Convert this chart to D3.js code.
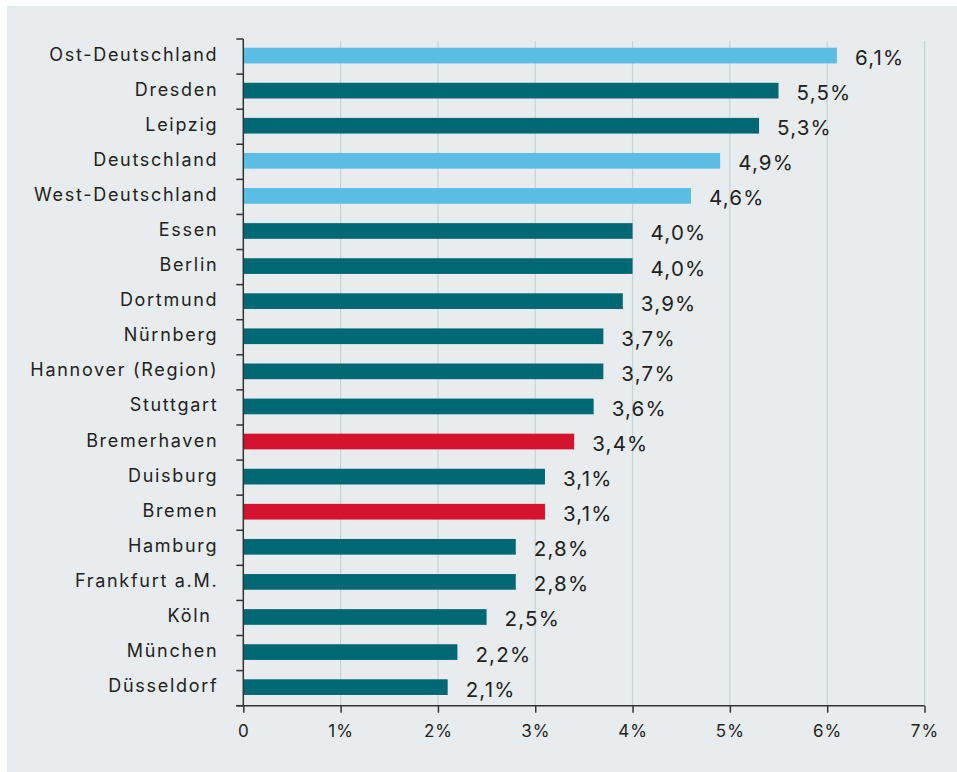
<!DOCTYPE html>
<html>
<head>
<meta charset="utf-8">
<script src="https://cdn.jsdelivr.net/npm/d3@7"></script>
<style>
  html, body { margin: 0; padding: 0; background: #fff; }
  svg { display: block; font-family: Inter, "Noto Sans", sans-serif; }
</style>
</head>
<body>
<svg id="chart" width="957" height="772"></svg>
<script>
'use strict';

// categories, top to bottom
var cities = [
  'Ost-Deutschland', 'Dresden', 'Leipzig', 'Deutschland', 'West-Deutschland',
  'Essen', 'Berlin', 'Dortmund', 'Nürnberg', 'Hannover (Region)', 'Stuttgart',
  'Bremerhaven', 'Duisburg', 'Bremen', 'Hamburg', 'Frankfurt a.M.', 'Köln ',
  'München', 'Düsseldorf'
];
// share in percent
var shares = [6.1, 5.5, 5.3, 4.9, 4.6, 4.0, 4.0, 3.9, 3.7, 3.7, 3.6, 3.4, 3.1, 3.1, 2.8, 2.8, 2.5, 2.2, 2.1];
// bar group: region aggregate, Bremen, other city
var groups = ['region', 'city', 'city', 'region', 'region', 'city', 'city', 'city', 'city', 'city', 'city',
  'bremen', 'city', 'bremen', 'city', 'city', 'city', 'city', 'city'];
var xTicks = [0, 1, 2, 3, 4, 5, 6, 7];

var colors = { region: '#5bbde3', city: '#006775', bremen: '#d4132f' };

var data = cities.map((c, i) => ({ name: c, value: shares[i], group: groups[i] }));

var svg = d3.select('#chart');

// grey panel
svg.append('rect')
  .attr('x', 7).attr('y', 6)
  .attr('width', 950).attr('height', 766)
  .attr('fill', '#e8ecee');

var mLeft = 243.3, mRight = 924.5, mTop = 39, mBottom = 705.7;

var x = d3.scaleLinear().domain([0, 7]).range([mLeft, mRight]);
var y = d3.scaleBand().domain(cities).range([mTop, mBottom]).paddingInner(0).paddingOuter(0);

var barH = 15.7;

// vertical grid
svg.append('g')
  .selectAll('line')
  .data(xTicks.slice(1))
  .join('line')
  .attr('x1', (d) => x(d)).attr('x2', (d) => x(d))
  .attr('y1', 41).attr('y2', mBottom)
  .attr('stroke', '#c8d3d4')
  .attr('stroke-width', 1.2);

// bars
svg.append('g')
  .selectAll('rect')
  .data(data)
  .join('rect')
  .attr('x', x(0))
  .attr('y', (d) => y(d.name) + y.bandwidth() / 2 - barH / 2 - 1)
  .attr('width', (d) => x(d.value) - x(0))
  .attr('height', barH)
  .attr('fill', (d) => colors[d.group]);

// value labels
var fmt = (v) => d3.format('.1f')(v).replace('.', ',') + '%';
svg.append('g')
  .selectAll('text')
  .data(data)
  .join('text')
  .attr('x', (d) => x(d.value) + 18)
  .attr('y', (d) => y(d.name) + y.bandwidth() / 2 + 8.5)
  .attr('fill', '#222')
  .style('font-size', '20.5px')
  .style('letter-spacing', '1.2px')
  .text((d) => fmt(d.value));

// y axis
var yAxis = svg.append('g')
  .attr('transform', 'translate(' + mLeft + ',0)');
yAxis.append('line')
  .attr('x1', 0).attr('x2', 0)
  .attr('y1', mTop).attr('y2', mBottom)
  .attr('stroke', '#333').attr('stroke-width', 1.5);
// ticks at band boundaries
var bounds = cities.map((c) => y(c)).concat([mBottom]);
yAxis.selectAll('.tick')
  .data(bounds)
  .join('line')
  .attr('class', 'tick')
  .attr('x1', -7).attr('x2', 0)
  .attr('y1', (d) => d).attr('y2', (d) => d)
  .attr('stroke', '#333').attr('stroke-width', 1.5);
yAxis.selectAll('text')
  .data(cities)
  .join('text')
  .attr('x', -25)
  .attr('y', (d) => y(d) + y.bandwidth() / 2 + 4)
  .attr('text-anchor', 'end')
  .attr('fill', '#222')
  .style('font-size', '18px')
  .style('letter-spacing', '1.7px')
  .style('white-space', 'pre')
  .text((d) => d);

// x axis
var xAxis = svg.append('g')
  .attr('transform', 'translate(0,' + mBottom + ')')
  .call(d3.axisBottom(x).tickValues(xTicks)
    .tickSize(7).tickSizeOuter(0)
    .tickFormat((d) => d === 0 ? '0' : d + '%'));
xAxis.select('.domain')
  .attr('d', 'M' + (mLeft - 7) + ',0H' + mRight)
  .attr('stroke', '#333').attr('stroke-width', 1.5);
xAxis.selectAll('.tick line').attr('stroke', '#333').attr('stroke-width', 1.5);
xAxis.selectAll('.tick text')
  .attr('y', 19)
  .attr('fill', '#222')
  .style('font-family', 'Inter, "Noto Sans", sans-serif')
  .style('font-size', '17px')
  .style('letter-spacing', '1px');
</script>
</body>
</html>
